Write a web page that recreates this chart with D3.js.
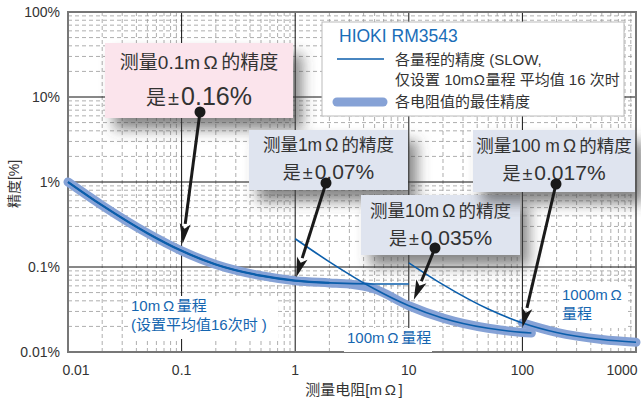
<!DOCTYPE html>
<html>
<head>
<meta charset="utf-8">
<script src="https://cdn.jsdelivr.net/npm/d3@7"></script>
<style>
  body { margin: 0; background: #fff; }
  svg { font-family: "Liberation Sans", "Noto Sans CJK SC", sans-serif; }
</style>
</head>
<body>
<svg class="chart" width="641" height="401"></svg>
<script>
// values
var xTicks = [0.01, 0.1, 1, 10, 100, 1000];
var xTickLabels = ["0.01", "0.1", "1", "10", "100", "1000"];
var yTicks = [0.01, 0.1, 1, 10, 100];
var yTickLabels = ["0.01%", "0.1%", "1%", "10%", "100%"];

// accuracy of each range (thin lines), x in mOhm, y in %
var range10X = [0.01, 0.02, 0.05, 0.1, 0.2, 0.5, 1, 2, 5, 10];
var range10Y = [1.0, 0.53, 0.25, 0.155, 0.107, 0.079, 0.069, 0.065, 0.063, 0.063];
var range100X = [1, 2, 5, 10, 20, 50, 100, 120];
var range100Y = [0.215, 0.115, 0.055, 0.035, 0.025, 0.019, 0.017, 0.0167];
var range1000X = [10, 20, 50, 100, 200, 500, 1000];
var range1000Y = [0.112, 0.062, 0.032, 0.022, 0.017, 0.014, 0.013];

// best accuracy (thick band)
var bestX = [0.01, 0.02, 0.05, 0.1, 0.2, 0.5, 1, 2, 3, 5, 10, 20, 50, 100, 120];
var bestY = [1.0, 0.53, 0.25, 0.155, 0.107, 0.079, 0.069, 0.065, 0.063, 0.055, 0.035, 0.025, 0.019, 0.017, 0.0167];
var best2X = [100, 200, 500, 1000];
var best2Y = [0.022, 0.017, 0.014, 0.013];

// callouts
var calloutTitles = ["测量0.1mΩ的精度", "测量1mΩ的精度", "测量10mΩ的精度", "测量100 mΩ的精度"];
var calloutValues = ["0.16%", "0.07%", "0.035%", "0.017%"];
var calloutX = [0.1, 1, 10, 100];
var calloutY = [0.16, 0.07, 0.035, 0.017];

var svg = d3.select(".chart");
var margin = {top: 12, right: 5, bottom: 49, left: 68};
var w = +svg.attr("width") - margin.left - margin.right;
var h = +svg.attr("height") - margin.top - margin.bottom;

var xScale = d3.scaleLog().domain([0.01, 1000]).range([margin.left, margin.left + w]);
var yScale = d3.scaleLog().domain([0.01, 100]).range([margin.top + h, margin.top]);

var blue = "#0b5eab";
var band = "#86a2d6";
var textCol = "#333";

// Ω gets a little air on both sides, like in the original artwork
function rich(textSel, str, gap) {
    gap = gap || "0.18em";
    str.split("Ω").forEach(function (part, i) {
        if (i > 0) textSel.append("tspan").attr("dx", gap).text("Ω");
        if (part) textSel.append("tspan").attr("dx", i > 0 ? gap : null).text(part);
    });
    return textSel;
}

var defs = svg.append("defs");
var f = defs.append("filter").attr("id", "shadow")
    .attr("x", "-20%").attr("y", "-20%").attr("width", "150%").attr("height", "160%");
f.append("feDropShadow").attr("dx", 9).attr("dy", 11).attr("stdDeviation", 7)
    .attr("flood-color", "#444").attr("flood-opacity", 0.65);

// grid
var grid = svg.append("g");
var minorX = [], minorY = [];
[0.01, 0.1, 1, 10, 100].forEach(function (d) {
    for (var k = 2; k <= 9; k++) minorX.push(d * k);
});
[0.01, 0.1, 1, 10].forEach(function (d) {
    for (var k = 2; k <= 9; k++) minorY.push(d * k);
});
grid.selectAll(".mx").data(minorX).enter().append("line")
    .attr("x1", function (d) { return xScale(d); }).attr("x2", function (d) { return xScale(d); })
    .attr("y1", margin.top).attr("y2", margin.top + h)
    .attr("stroke", "#999").attr("stroke-width", 0.8).attr("stroke-dasharray", "4,3");
grid.selectAll(".my").data(minorY).enter().append("line")
    .attr("y1", function (d) { return yScale(d); }).attr("y2", function (d) { return yScale(d); })
    .attr("x1", margin.left).attr("x2", margin.left + w)
    .attr("stroke", "#999").attr("stroke-width", 0.8).attr("stroke-dasharray", "4,3");
grid.selectAll(".Mx").data(xTicks).enter().append("line")
    .attr("x1", function (d) { return xScale(d); }).attr("x2", function (d) { return xScale(d); })
    .attr("y1", margin.top).attr("y2", margin.top + h)
    .attr("stroke", "#111").attr("stroke-width", 1);
grid.selectAll(".My").data(yTicks).enter().append("line")
    .attr("y1", function (d) { return yScale(d); }).attr("y2", function (d) { return yScale(d); })
    .attr("x1", margin.left).attr("x2", margin.left + w)
    .attr("stroke", "#111").attr("stroke-width", 1);
svg.append("rect").attr("x", margin.left).attr("y", margin.top).attr("width", w).attr("height", h)
    .attr("fill", "none").attr("stroke", "#777").attr("stroke-width", 2);

// tick labels
svg.selectAll(".xt").data(xTicks).enter().append("text")
    .attr("x", function (d, i) { return xScale(d) + (i === 0 ? 8 : i === xTicks.length - 1 ? -14 : 0); })
    .attr("y", margin.top + h + 23)
    .attr("text-anchor", "middle").attr("font-size", 14).attr("fill", textCol)
    .text(function (d, i) { return xTickLabels[i]; });
svg.selectAll(".yt").data(yTicks).enter().append("text")
    .attr("x", margin.left - 8).attr("y", function (d) { return yScale(d) + 5; })
    .attr("text-anchor", "end").attr("font-size", 14).attr("fill", textCol)
    .text(function (d, i) { return yTickLabels[i]; });
rich(svg.append("text").attr("x", 354).attr("y", 395).attr("text-anchor", "middle")
    .attr("font-size", 15).attr("fill", textCol), "测量电阻[mΩ]");
svg.append("text").attr("transform", "translate(19,184) rotate(-90)").attr("text-anchor", "middle")
    .attr("font-size", 14).attr("fill", textCol).text("精度[%]");

// range labels with white background
function rangeLabel(x, y, lines, bw) {
    var g = svg.append("g");
    g.append("rect").attr("x", x - 3).attr("y", y - 15).attr("width", bw)
        .attr("height", lines.length * 19 + 5).attr("fill", "#fff");
    lines.forEach(function (t, i) {
        rich(g.append("text").attr("x", x).attr("y", y + i * 19).attr("font-size", 15)
            .attr("fill", "#1566b0"), t);
    });
}
rangeLabel(131, 311, ["10mΩ量程", "(设置平均值16次时 )"], 150);
rangeLabel(347, 343, ["100mΩ量程"], 88);
rangeLabel(562, 300, ["1000mΩ", "量程"], 68);

// legend
var lg = svg.append("g");
lg.append("rect").attr("x", 322).attr("y", 22).attr("width", 302).attr("height", 94)
    .attr("fill", "#fff").attr("stroke", "#bbb").attr("stroke-width", 1);
lg.append("text").attr("x", 339).attr("y", 42).attr("font-size", 17.5).attr("fill", "#1a6db8").text("HIOKI RM3543");
lg.append("line").attr("x1", 337).attr("x2", 384).attr("y1", 59).attr("y2", 59).attr("stroke", blue).attr("stroke-width", 1.6);
lg.append("text").attr("x", 395).attr("y", 65).attr("font-size", 15).attr("fill", textCol).text("各量程的精度 (SLOW,");
rich(lg.append("text").attr("x", 395).attr("y", 85).attr("font-size", 15).attr("fill", textCol), "仅设置 10mΩ量程 平均值 16 次时", "0.03em");
lg.append("line").attr("x1", 337).attr("x2", 383).attr("y1", 102).attr("y2", 102)
    .attr("stroke", band).attr("stroke-width", 9).attr("stroke-linecap", "round");
lg.append("text").attr("x", 395).attr("y", 107).attr("font-size", 15).attr("fill", textCol).text("各电阻值的最佳精度");

// callout boxes
var boxes = [
    {x: 105, y: 43, w: 188, h: 75, fill: "#fbe4ec", s1: 19, s2: 20, s3: 25, l1: 69, l2: 105},
    {x: 249, y: 130, w: 159, h: 60, fill: "#dfe4ef", s1: 17.5, s2: 18, s3: 21, l1: 151, l2: 179},
    {x: 361, y: 195, w: 159, h: 60, fill: "#dfe4ef", s1: 17.5, s2: 18, s3: 21, l1: 217, l2: 245},
    {x: 473, y: 130, w: 162, h: 62, fill: "#dfe4ef", s1: 17.5, s2: 18, s3: 21, l1: 152, l2: 180}
];
var dots = [[200, 112], [326, 183], [435, 248], [556, 184]];
boxes.forEach(function (b, i) {
    svg.append("rect").attr("x", b.x).attr("y", b.y).attr("width", b.w).attr("height", b.h)
        .attr("fill", b.fill).attr("filter", "url(#shadow)");
    var cx = b.x + b.w / 2;
    rich(svg.append("text").attr("x", cx).attr("y", b.l1).attr("text-anchor", "middle")
        .attr("font-size", b.s1).attr("fill", textCol), calloutTitles[i]);
    var t = svg.append("text").attr("x", cx).attr("y", b.l2).attr("text-anchor", "middle").attr("fill", textCol);
    t.append("tspan").attr("font-size", b.s2).attr("letter-spacing", 2).text("是±");
    t.append("tspan").attr("font-size", b.s3).text(calloutValues[i]);
});

// curves
var line = d3.line()
    .x(function (d) { return xScale(d[0]); })
    .y(function (d) { return yScale(d[1]); })
    .curve(d3.curveMonotoneX);
function pts(xs, ys) { return xs.map(function (x, i) { return [x, ys[i]]; }); }

[pts(bestX, bestY), pts(best2X, best2Y)].forEach(function (p) {
    svg.append("path").attr("d", line(p)).attr("fill", "none").attr("stroke", band)
        .attr("stroke-width", 9).attr("stroke-linecap", "round").attr("stroke-linejoin", "round");
});
[pts(range10X, range10Y), pts(range100X, range100Y), pts(range1000X, range1000Y)].forEach(function (p) {
    svg.append("path").attr("d", line(p)).attr("fill", "none").attr("stroke", blue).attr("stroke-width", 1.6);
});
svg.append("path").attr("d", line(pts(bestX.slice(0, 8), bestY.slice(0, 8))))
    .attr("fill", "none").attr("stroke", blue).attr("stroke-width", 2.2);

// arrows
var tipOffset = [[1, -6], [1, -3], [5, -6], [0, -5]];
dots.forEach(function (d, i) {
    var tx = xScale(calloutX[i]) + tipOffset[i][0];
    var ty = yScale(calloutY[i]) + tipOffset[i][1];
    var dx = tx - d[0], dy = ty - d[1];
    var len = Math.sqrt(dx * dx + dy * dy);
    var ux = dx / len, uy = dy / len;
    var hl = 20, hw = 5.5;
    var bx = tx - ux * hl, by = ty - uy * hl;
    svg.append("line").attr("x1", d[0]).attr("y1", d[1]).attr("x2", bx).attr("y2", by)
        .attr("stroke", "#1a1a1a").attr("stroke-width", 3);
    svg.append("path")
        .attr("d", "M" + tx + "," + ty + "L" + (bx - uy * hw) + "," + (by + ux * hw) +
            "L" + (bx + ux * 5) + "," + (by + uy * 5) +
            "L" + (bx + uy * hw) + "," + (by - ux * hw) + "Z")
        .attr("fill", "#1a1a1a");
    svg.append("circle").attr("cx", d[0]).attr("cy", d[1]).attr("r", 5.5).attr("fill", "#1a1a1a");
});
</script>
</body>
</html>
